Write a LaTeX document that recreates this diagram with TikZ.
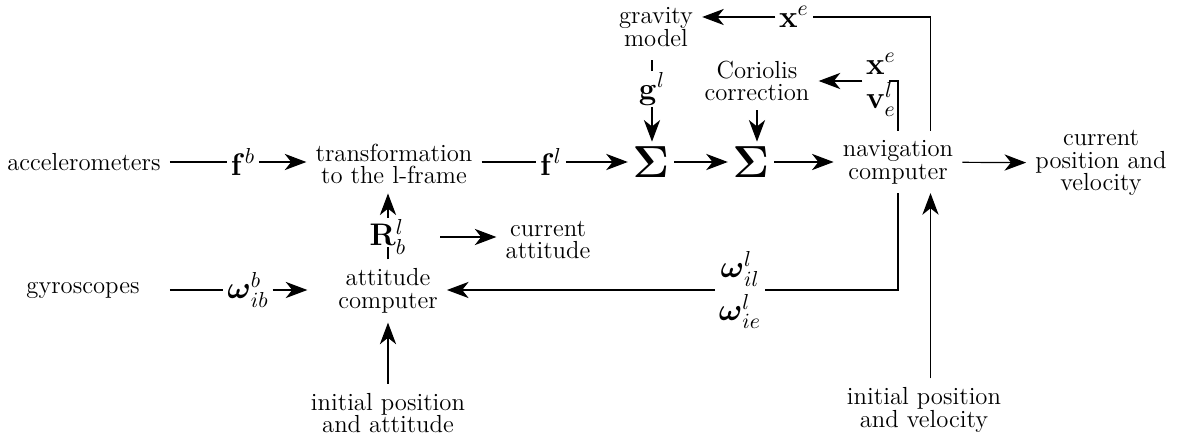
\documentclass[tikz,12pt,border=0pt]{standalone}
\usepackage{amsmath}
\usepackage[no-math]{fontspec}
\usetikzlibrary{arrows.meta,calc}

\begin{document}
\begin{tikzpicture}[
  x={(0.4615pt,0)}, y={(0,-0.4615pt)},
  line width=0.55pt,
  blk/.style={align=center, font=\fontsize{11.4}{10.5}\selectfont},
  lbl/.style={inner sep=1.5pt, font=\large},
  sig/.style={inner sep=2pt, font=\LARGE},
  arr/.style={-{Stealth[length=10pt, width=7.5pt, inset=3pt]}}
]
\useasboundingbox (0,0) rectangle (1189,441);

% sensors and attitude part
\node[blk] (acc)  at (84,162)  {accelerometers};
\node[blk] (gyro) at (83,290)  {gyroscopes};
\node[lbl] (fb)   at (243,162) {$\mathbf{f}^b$};
\node[lbl] (wib)  at (248,290) {$\boldsymbol{\omega}^b_{ib}$};
\node[blk] (trf)  at (394,164) {transformation\\to the l-frame};
\node[blk] (att)  at (388,291) {attitude\\computer};
\node[lbl, inner sep=0.5pt] (Rb) at (388,237) {$\mathbf{R}^l_b$};
\node[blk] (catt) at (548,240) {current\\attitude};
\node[blk] (iatt) at (388,413) {initial position\\and attitude};

% navigation part
\node[lbl] (fl)   at (551,162) {$\mathbf{f}^l$};
\node[sig] (sum1) at (651,162) {$\mathbf{\Sigma}$};
\node[sig] (sum2) at (751,162) {$\mathbf{\Sigma}$};
\node[blk] (grav) at (656,27)  {gravity\\model};
\node[lbl, inner sep=0.5pt] (gl) at (652,89) {$\mathbf{g}^l$};
\node[blk] (cor)  at (757,81)  {Coriolis\\correction};
\node[blk] (nav)  at (898,162) {navigation\\computer};
\node[blk] (cpv)  at (1101,163) {current\\position and\\velocity};
\node[blk] (ipv)  at (924,410) {initial position\\and velocity};
\node[lbl] (xe)   at (794,17)  {$\mathbf{x}^e$};
\node[lbl, align=center] (xv) at (881,85) {$\mathbf{x}^e$\\[-2pt]$\mathbf{v}^l_e$};
\node[lbl, align=center] (wl) at (740,290) {$\boldsymbol{\omega}^l_{il}$\\[2pt]$\boldsymbol{\omega}^l_{ie}$};

\draw      (acc.east) -- (acc.east -| fb.west);
\draw[arr] (fb) -- (fb -| trf.west);
\draw      (acc.east |- gyro) -- (gyro -| wib.west);
\draw[arr] (wib) -- ([xshift=-10pt]wib -| att.west);
\draw      (att.north) -- ++(0,-12);
\draw[arr] (att.north |- Rb.north) -- (att.north |- trf.south);
\draw[arr] ([xshift=15pt]Rb.east) -- (catt.west |- Rb);
\draw[arr] (iatt) -- (att);

\draw      (trf.east |- fl) -- (fl);
\draw[arr] (fl) -- (fl -| sum1.west);
\draw[arr] (sum1) -- (sum2);
\draw[arr] (sum2) -- (nav);
\draw[arr] (nav) -- (cpv);
\draw      (gl.north) -- ++(0,-11);
\draw[arr] (gl.south) -- (gl.south |- sum1.north);
\draw[arr] (cor.south) -- (cor.south |- sum2.north);

% feedback from the navigation computer
\draw      ([xshift=15pt]nav.north) |- (xe);
\draw[arr] (xe) -- (grav.east |- xe);
\draw      (nav.north) |- ($(xv.east |- cor)+(-11,0)$);
\draw[arr] (xv.west |- cor) -- (cor);
\draw      (nav.south) |- (wl);
\draw[arr] (wl) -- (att.east |- wl);
\draw[arr] ([xshift=3pt]ipv.north) -- ([xshift=3pt]ipv.north |- nav.south);
\end{tikzpicture}
\end{document}
